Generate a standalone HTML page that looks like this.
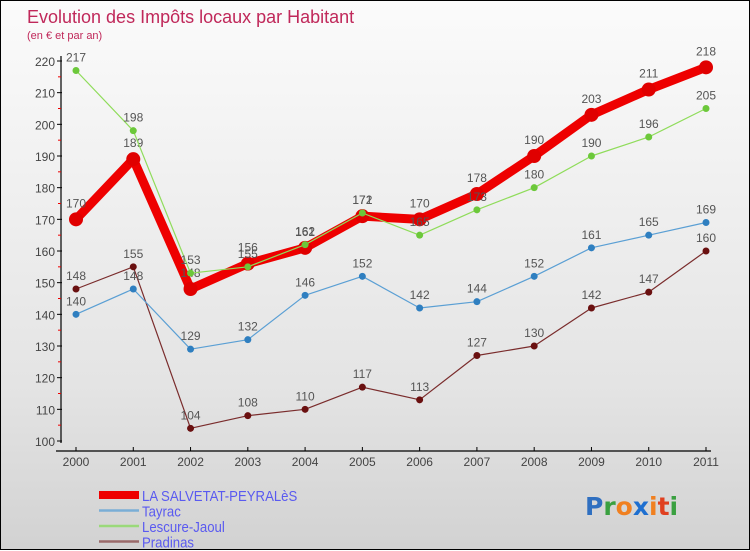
<!DOCTYPE html>
<html><head><meta charset="utf-8">
<style>
html,body{margin:0;padding:0}
body{width:750px;height:550px;overflow:hidden;font-family:"Liberation Sans",sans-serif}
#wrap{position:relative;width:748px;height:548px;border:1px solid #000;background:linear-gradient(#fbfbfb,#e4e4e4 70%,#d2d2d2)}
svg{position:absolute;left:0;top:0}
</style></head><body>
<div id="wrap">
<svg id="chart" width="750" height="550"></svg>
</div>
<script>
const years=["2000","2001","2002","2003","2004","2005","2006","2007","2008","2009","2010","2011"];
const salvetat=[170,189,148,156,161,171,170,178,190,203,211,218];
const tayrac=[140,148,129,132,146,152,142,144,152,161,165,169];
const lescure=[217,198,153,155,162,172,165,173,180,190,196,205];
const pradinas=[148,155,104,108,110,117,113,127,130,142,147,160];
const yTicks=[100,110,120,130,140,150,160,170,180,190,200,210,220];
const seriesNames=["LA SALVETAT-PEYRALèS","Tayrac","Lescure-Jaoul","Pradinas"];

const NS="http://www.w3.org/2000/svg";
const svg=document.getElementById('chart');
function x(i){return 75+i*(630/11);}
function y(v){return 440-(v-100)*(380/120);}
function mk(tag,attrs,parent){const e=document.createElementNS(NS,tag);for(const k in attrs)e.setAttribute(k,attrs[k]);(parent||svg).appendChild(e);return e;}
function txt(s,attrs){const e=mk('text',attrs);e.textContent=s;return e;}

let t=txt("Evolution des Impôts locaux par Habitant",{x:26,y:22,'font-size':18,fill:'#c0285a'});

t=txt("(en € et par an)",{x:26,y:38,'font-size':11,fill:'#c0285a'});


let a=mk('line',{x1:60,y1:55,x2:60,y2:442,stroke:'#000','stroke-width':1.2});

a=mk('line',{x1:55,y1:450,x2:710,y2:450,stroke:'#000','stroke-width':1.2});

yTicks.forEach((v,i)=>{
  mk('line',{x1:56,y1:y(v),x2:61,y2:y(v),stroke:'#000'});
  if(i<yTicks.length-1) mk('line',{x1:57,y1:y(v+5),x2:60,y2:y(v+5),stroke:'#e00'});
  const l=txt(String(v),{x:54,y:y(v)+5,'font-size':12,fill:'#444','text-anchor':'end'});
  
});
years.forEach((yr,i)=>{
  mk('line',{x1:x(i),y1:446,x2:x(i),y2:450,stroke:'#000'});
  const l=txt(yr,{x:x(i),y:465,'font-size':12,fill:'#444','text-anchor':'middle'});
  
});

function drawSeries(vals,color,w,r,dot,name,off){
  const g=mk('g',{});
  
  const p=mk('polyline',{points:vals.map((v,i)=>x(i)+','+y(v)).join(' '),fill:'none',stroke:color,'stroke-width':w,'stroke-linejoin':'round'},g);
  
  vals.forEach((v,i)=>{
    const c=mk('circle',{cx:x(i),cy:y(v),r:r,fill:dot},g);
    
    const l=mk('text',{x:x(i),y:y(v)-off,'font-size':12,fill:'#555','text-anchor':'middle'},g);
    l.textContent=String(v);
    
  });
}
drawSeries(pradinas,'#7a2c2c',1.2,3.5,'#6a1010','pradinas',9);
drawSeries(tayrac,'#5a9fd4',1.2,3.5,'#2f7fc0','tayrac',9);
drawSeries(salvetat,'#ee0000',9,7,'#e00000','salvetat',12);
drawSeries(lescure,'#8fdc5a',1.2,3.5,'#6cc83a','lescure',9);

const lc=['#ee0000','#7aaed6','#9ad97a','#9a6a6a'];
const lw=[8,2.5,2.5,2.5];
seriesNames.forEach((n,i)=>{
  const yy=494+i*15.5;
  const ln=mk('line',{x1:98,y1:yy,x2:138,y2:yy,stroke:lc[i],'stroke-width':lw[i]});
  
  const l=txt(n,{x:141,y:yy+6,'font-size':15,fill:'#5a5af0',transform:'translate(141 0) scale(0.88 1) translate(-141 0)'});
  
});
const logo=mk('text',{x:584,y:514,'font-size':25,'font-family':'DejaVu Sans, sans-serif','font-weight':'bold'});

[['P','#2f6fc0'],['r','#3aa040'],['o','#f08020'],['x','#1e6fd0'],['i','#f08020'],['t','#e04020'],['i','#3aa040']].forEach(([c,col])=>{
  const s=document.createElementNS(NS,'tspan');s.setAttribute('fill',col);s.textContent=c;logo.appendChild(s);
});
</script>
</body></html>
